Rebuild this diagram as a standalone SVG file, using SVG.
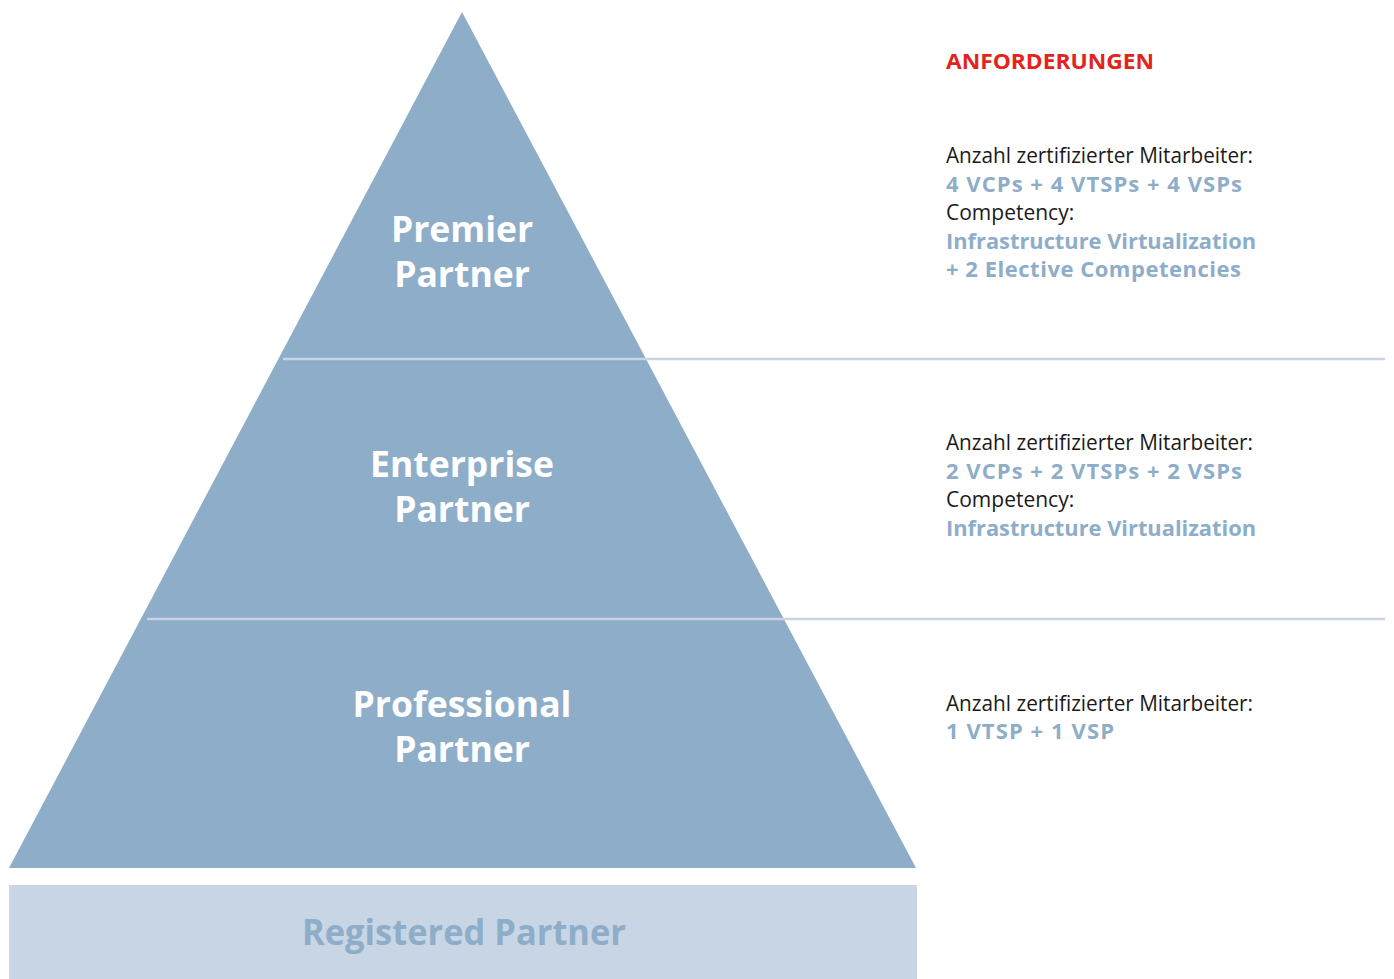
<svg xmlns="http://www.w3.org/2000/svg" width="1394" height="979" viewBox="0 0 1394 979">
<style>
.lvl{font-family:"Open Sans","Liberation Sans",sans-serif;font-weight:bold;font-size:35.5px;fill:#ffffff;text-anchor:middle}
.reg{font-family:"Open Sans","Liberation Sans",sans-serif;font-weight:bold;font-size:36px;fill:#8eadc9;text-anchor:middle}
.req{font-family:"Open Sans","Liberation Sans",sans-serif;font-size:21px;fill:#1a1a1a}
.reqb{font-family:"Open Sans","Liberation Sans",sans-serif;font-weight:bold;font-size:22px;fill:#8eadc9}
.head{font-family:"Open Sans","Liberation Sans",sans-serif;font-weight:bold;font-size:22px;fill:#e3231c}
.sep{stroke:#c8d4e3;stroke-width:2.5;fill:none}
</style>
<rect width="1394" height="979" fill="#ffffff"/>
<g id="pyramid">
<polygon points="462,12 9,868 916,868" fill="#8eadc9"/>
</g>
<g id="connectors">
<line class="sep" x1="283" y1="359" x2="1385" y2="359"/>
<line class="sep" x1="147" y1="619" x2="1385" y2="619"/>
</g>
<g id="premier">
<text class="lvl" x="462" y="242">Premier</text>
<text class="lvl" x="462" y="287">Partner</text>
</g>
<g id="enterprise">
<text class="lvl" x="462" y="477">Enterprise</text>
<text class="lvl" x="462" y="522">Partner</text>
</g>
<g id="professional">
<text class="lvl" x="462" y="717">Professional</text>
<text class="lvl" x="462" y="762">Partner</text>
</g>
<g id="registered">
<rect x="9" y="885" width="908" height="94" fill="#c8d5e4"/>
<text class="reg" x="464" y="945" textLength="324" lengthAdjust="spacingAndGlyphs">Registered Partner</text>
</g>
<g id="requirements-header">
<text class="head" x="946" y="69" textLength="208" lengthAdjust="spacingAndGlyphs">ANFORDERUNGEN</text>
</g>
<g id="req-premier">
<text class="req" x="946" y="163" textLength="307" lengthAdjust="spacingAndGlyphs">Anzahl zertifizierter Mitarbeiter:</text>
<text class="reqb" x="946" y="192" textLength="296" lengthAdjust="spacing">4 VCPs + 4 VTSPs + 4 VSPs</text>
<text class="req" x="946" y="220">Competency:</text>
<text class="reqb" x="946" y="249" textLength="310" lengthAdjust="spacingAndGlyphs">Infrastructure Virtualization</text>
<text class="reqb" x="946" y="277" textLength="295" lengthAdjust="spacing">+ 2 Elective Competencies</text>
</g>
<g id="req-enterprise">
<text class="req" x="946" y="450" textLength="307" lengthAdjust="spacingAndGlyphs">Anzahl zertifizierter Mitarbeiter:</text>
<text class="reqb" x="946" y="479" textLength="296" lengthAdjust="spacing">2 VCPs + 2 VTSPs + 2 VSPs</text>
<text class="req" x="946" y="507">Competency:</text>
<text class="reqb" x="946" y="536" textLength="310" lengthAdjust="spacingAndGlyphs">Infrastructure Virtualization</text>
</g>
<g id="req-professional">
<text class="req" x="946" y="711" textLength="307" lengthAdjust="spacingAndGlyphs">Anzahl zertifizierter Mitarbeiter:</text>
<text class="reqb" x="946" y="739" textLength="168" lengthAdjust="spacing">1 VTSP + 1 VSP</text>
</g>
</svg>
